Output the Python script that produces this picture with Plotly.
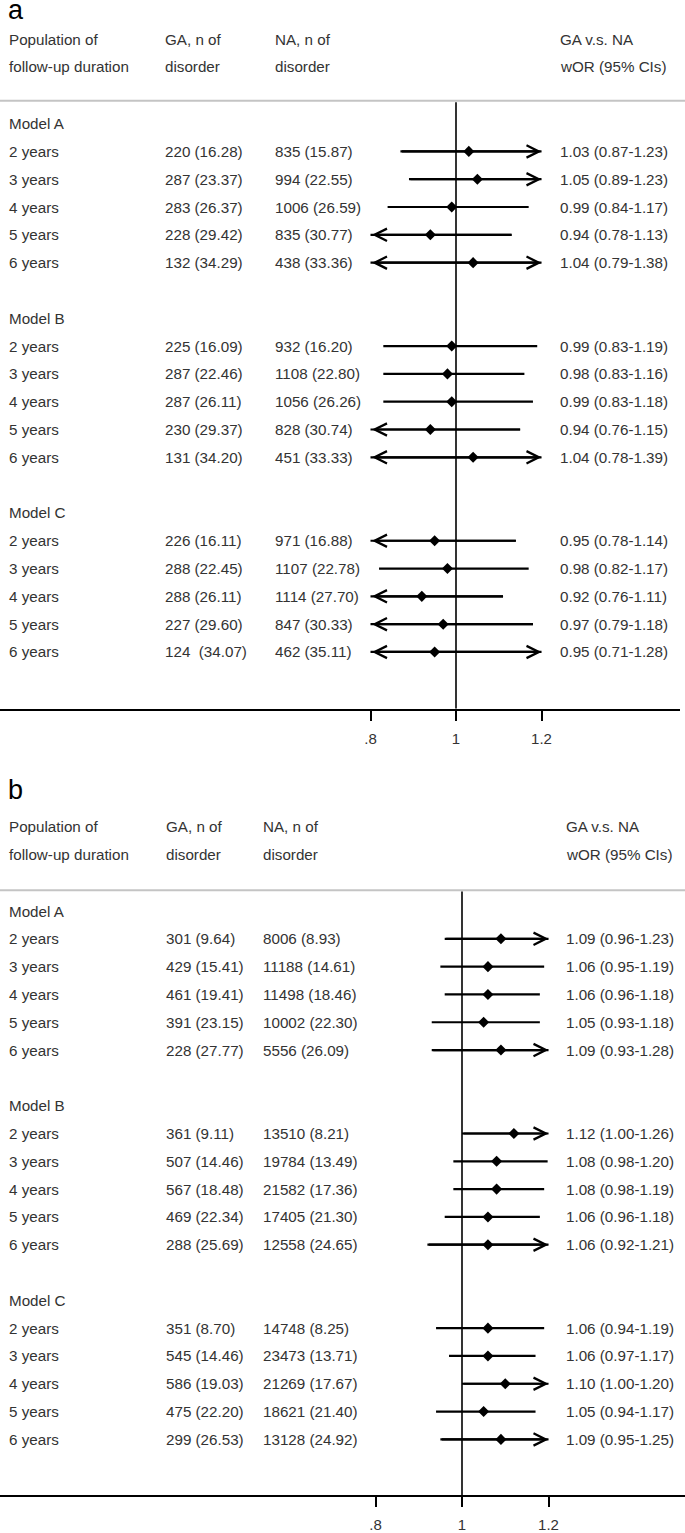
import plotly.graph_objects as go

W, H = 685, 1533

# ---- data -------------------------------------------------------------
models = ["Model A", "Model B", "Model C"]
durations = ["2 years", "3 years", "4 years", "5 years", "6 years"]

# panel a
a_ga = ["220 (16.28)", "287 (23.37)", "283 (26.37)", "228 (29.42)", "132 (34.29)",
        "225 (16.09)", "287 (22.46)", "287 (26.11)", "230 (29.37)", "131 (34.20)",
        "226 (16.11)", "288 (22.45)", "288 (26.11)", "227 (29.60)", "124\u00a0 (34.07)"]
a_na = ["835 (15.87)", "994 (22.55)", "1006 (26.59)", "835 (30.77)", "438 (33.36)",
        "932 (16.20)", "1108 (22.80)", "1056 (26.26)", "828 (30.74)", "451 (33.33)",
        "971 (16.88)", "1107 (22.78)", "1114 (27.70)", "847 (30.33)", "462 (35.11)"]
a_or = [1.03, 1.05, 0.99, 0.94, 1.04,
        0.99, 0.98, 0.99, 0.94, 1.04,
        0.95, 0.98, 0.92, 0.97, 0.95]
a_lo = [0.87, 0.89, 0.84, 0.78, 0.79,
        0.83, 0.83, 0.83, 0.76, 0.78,
        0.78, 0.82, 0.76, 0.79, 0.71]
a_hi = [1.23, 1.23, 1.17, 1.13, 1.38,
        1.19, 1.16, 1.18, 1.15, 1.39,
        1.14, 1.17, 1.11, 1.18, 1.28]

# panel b
b_ga = ["301 (9.64)", "429 (15.41)", "461 (19.41)", "391 (23.15)", "228 (27.77)",
        "361 (9.11)", "507 (14.46)", "567 (18.48)", "469 (22.34)", "288 (25.69)",
        "351 (8.70)", "545 (14.46)", "586 (19.03)", "475 (22.20)", "299 (26.53)"]
b_na = ["8006 (8.93)", "11188 (14.61)", "11498 (18.46)", "10002 (22.30)", "5556 (26.09)",
        "13510 (8.21)", "19784 (13.49)", "21582 (17.36)", "17405 (21.30)", "12558 (24.65)",
        "14748 (8.25)", "23473 (13.71)", "21269 (17.67)", "18621 (21.40)", "13128 (24.92)"]
b_or = [1.09, 1.06, 1.06, 1.05, 1.09,
        1.12, 1.08, 1.08, 1.06, 1.06,
        1.06, 1.06, 1.10, 1.05, 1.09]
b_lo = [0.96, 0.95, 0.96, 0.93, 0.93,
        1.00, 0.98, 0.98, 0.96, 0.92,
        0.94, 0.97, 1.00, 0.94, 0.95]
# unrounded estimates where the plotted arrow differs from the rounded label
b_hi = [1.23, 1.19, 1.18, 1.18, 1.28,
        1.26, 1.198, 1.19, 1.18, 1.21,
        1.19, 1.17, 1.203, 1.17, 1.25]

ticks = [0.8, 1.0, 1.2]
tick_text = [".8", "1", "1.2"]
x_min, x_max = 0.8, 1.2  # plotted window, arrows beyond it

FONT = "Arial, Liberation Sans, sans-serif"
TXT = "#333333"
FS = 15.2

fig = go.Figure()
annotations = []
shapes = []

# panel layout: axis ids, pixel of first row, px of axis line, px of 1.0, px per unit,
# right end of axis, column x positions, gray rule row
panels = [
    dict(tag="a", data=(a_ga, a_na, a_or, a_lo, a_hi), xa="x", ya="y",
         top=0, row0=124, axis_px=711, one_px=456, unit=427.5, right=680,
         cols=(7, 163, 273, 558), rule=-0.82, tag_px=10),
    dict(tag="b", data=(b_ga, b_na, b_or, b_lo, b_hi), xa="x2", ya="y2",
         top=790, row0=914, axis_px=1500, one_px=462, unit=432.5, right=685,
         cols=(7, 164, 261, 564), rule=-0.75, tag_px=793),
]
PITCH = 27.9

for p in panels:
    ga, na, orv, lo, hi = p["data"]
    xa, ya = p["xa"], p["ya"]
    r_top = (p["top"] - p["row0"]) / PITCH
    r_bot = (p["axis_px"] - p["row0"]) / PITCH
    c1, c2, c3, c4 = [c / W for c in p["cols"]]

    def txt(x, y, s):
        annotations.append(dict(x=x, y=y, xref="paper", yref=ya, text=s, showarrow=False,
                                xanchor="left", yanchor="middle",
                                font=dict(family=FONT, size=FS, color=TXT)))

    # headers
    txt(c1, -3.03, "Population of")
    txt(c1, -2.04, "follow-up duration")
    txt(c2, -3.03, "GA, n of")
    txt(c2, -2.04, "disorder")
    txt(c3, -3.03, "NA, n of")
    txt(c3, -2.04, "disorder")
    txt(c4, -3.03, "GA v.s. NA")
    txt(c4, -2.04, "wOR (95% CIs)")

    annotations.append(dict(x=6 / W, y=1 - p["tag_px"] / H, xref="paper", yref="paper",
                            text=p["tag"], showarrow=False, xanchor="left", yanchor="middle",
                            font=dict(family=FONT, size=27, color="black")))

    shapes.append(dict(type="line", xref="paper", yref=ya, x0=0, x1=1,
                       y0=p["rule"], y1=p["rule"], line=dict(color="#c4c4c4", width=2)))
    shapes.append(dict(type="line", xref=xa, yref=ya, x0=1, x1=1,
                       y0=p["rule"] + 0.05, y1=r_bot, line=dict(color="black", width=1.6)))

    seg_x, seg_y, pt_x, pt_y = [], [], [], []
    for m, model in enumerate(models):
        r_model = m * 7
        txt(c1, r_model, model)
        for k, dur in enumerate(durations):
            i = m * 5 + k
            r = r_model + 1 + k
            txt(c1, r, dur)
            txt(c2, r, ga[i])
            txt(c3, r, na[i])
            txt(c4, r, f"{orv[i]:.2f} ({lo[i]:.2f}-{hi[i]:.2f})")
            lo_c = max(lo[i], x_min)
            hi_c = min(hi[i], x_max)
            seg_x += [lo_c, hi_c, None]
            seg_y += [r, r, None]
            pt_x.append(orv[i])
            pt_y.append(r)
            left, right = lo[i] < x_min, hi[i] > x_max
            if left or right:
                side = "end+start" if (left and right) else ("end" if right else "start")
                annotations.append(dict(
                    x=hi_c, y=r, ax=lo_c, ay=r, xref=xa, yref=ya, axref=xa, ayref=ya,
                    text="", showarrow=True, arrowside=side,
                    arrowhead=5, startarrowhead=5, arrowsize=1.1, startarrowsize=1.1,
                    arrowwidth=2.2, arrowcolor="black", standoff=0, startstandoff=0))

    fig.add_trace(go.Scatter(x=seg_x, y=seg_y, mode="lines", xaxis=xa, yaxis=ya,
                             line=dict(color="black", width=2.2), hoverinfo="skip",
                             showlegend=False))
    fig.add_trace(go.Scatter(x=pt_x, y=pt_y, mode="markers", xaxis=xa, yaxis=ya,
                             marker=dict(symbol="diamond", size=8.5, color="black"),
                             showlegend=False))

    xrange = [1 - p["one_px"] / p["unit"], 1 + (p["right"] - p["one_px"]) / p["unit"]]
    axis_name = "xaxis" if xa == "x" else "xaxis2"
    yaxis_name = "yaxis" if ya == "y" else "yaxis2"
    fig.update_layout({
        axis_name: dict(domain=[0, p["right"] / W], range=xrange, anchor=ya,
                        showline=True, linecolor="black", linewidth=2,
                        ticks="outside", ticklen=10, tickwidth=2, tickcolor="black",
                        tickvals=ticks, ticktext=tick_text, ticklabelstandoff=5,
                        tickfont=dict(family=FONT, size=15, color=TXT),
                        showgrid=False, zeroline=False, fixedrange=True),
        yaxis_name: dict(domain=[1 - p["axis_px"] / H, 1 - p["top"] / H],
                         range=[r_bot, r_top], anchor=xa, visible=False,
                         showgrid=False, zeroline=False, fixedrange=True),
    })

fig.update_layout(
    width=W, height=H,
    margin=dict(l=0, r=0, t=0, b=0),
    paper_bgcolor="white", plot_bgcolor="white",
    showlegend=False,
    annotations=annotations,
    shapes=shapes,
)

# page body has a default 8px margin; drop it so the figure fills the window
fig.write_html("out.html", config={"displayModeBar": False},
               post_script="document.body.style.margin='0px';")
